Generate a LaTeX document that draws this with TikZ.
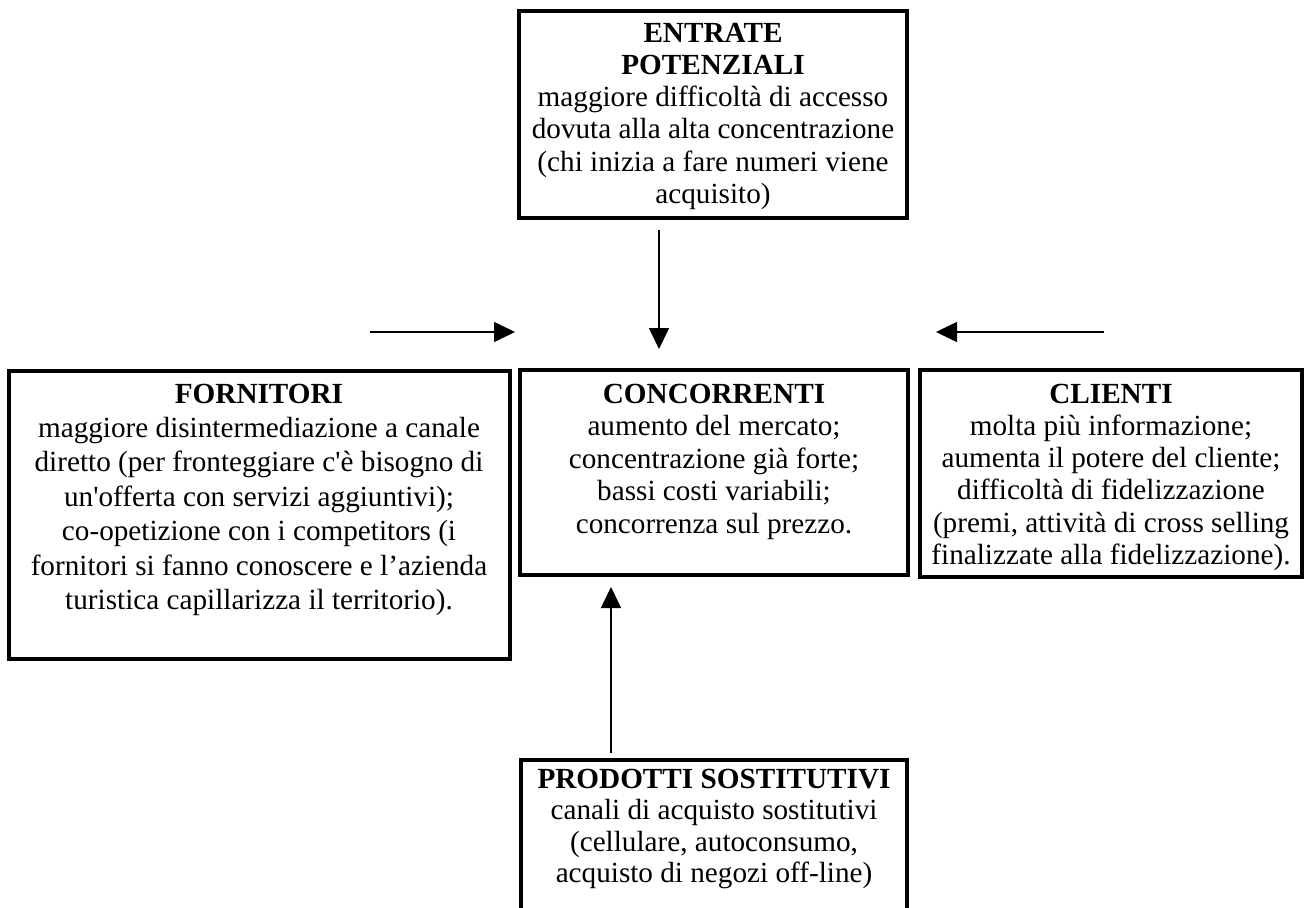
\documentclass[tikz,border=0pt]{standalone}
\usepackage{fontspec}
\setmainfont{Liberation Serif}
\usetikzlibrary{arrows.meta}
\newcommand{\boxtitle}[1]{{\bfseries #1}}
\begin{document}
\begin{tikzpicture}[x=1pt,y=-1pt,
  frame/.style={draw=black, line width=4pt, inner sep=0pt, outer sep=0pt},
  boxtext/.style={anchor=base, align=flush center, inner sep=0pt,
    font=\fontsize{29.2}{32.5}\selectfont},
  flow/.style={line width=1.6pt, -{Triangle[length=21pt,width=20pt]}}
]
\useasboundingbox (0,0) rectangle (1308,907);
\clip (0,0) rectangle (1308,907);

% frames of the five forces
\node[frame, minimum width=388pt, minimum height=207pt] (entrate) at (713,114.5) {};
\node[frame, minimum width=501pt, minimum height=288pt] (fornitori) at (259,515) {};
\node[frame, minimum width=388pt, minimum height=205pt] (concorrenti) at (714,472.5) {};
\node[frame, minimum width=382pt, minimum height=207pt] (clienti) at (1111,473.5) {};
\node[frame, minimum width=386pt, minimum height=200pt] (prodotti) at (714,860) {};

% texts
\node[boxtext, text width=400pt, font=\fontsize{29.2}{32.3}\selectfont] (entrateT) at (713,42)
  {\boxtitle{ENTRATE}\\\boxtitle{POTENZIALI}\\maggiore difficoltà di accesso\\dovuta alla alta concentrazione\\(chi inizia a fare numeri viene\\acquisito)};
\node[boxtext, text width=490pt, font=\fontsize{29.2}{34.4}\selectfont] (fornitoriT) at (259,403)
  {\boxtitle{FORNITORI}\\maggiore disintermediazione a canale\\diretto (per fronteggiare c\textquotesingle è bisogno di\\un\textquotesingle offerta con servizi aggiuntivi);\\co-opetizione con i competitors (i\\fornitori si fanno conoscere e l’azienda\\turistica capillarizza il territorio).};
\node[boxtext, text width=378pt] (concorrentiT) at (714,403)
  {\boxtitle{CONCORRENTI}\\aumento del mercato;\\concentrazione già forte;\\bassi costi variabili;\\concorrenza sul prezzo.};
\node[boxtext, text width=400pt, font=\fontsize{29.2}{32.3}\selectfont] (clientiT) at (1111,403)
  {\boxtitle{CLIENTI}\\molta più informazione;\\aumenta il potere del cliente;\\difficoltà di fidelizzazione\\(premi, attività di cross selling\\finalizzate alla fidelizzazione).};
\node[boxtext, text width=376pt, font=\fontsize{29.2}{31.5}\selectfont] (prodottiT) at (714,788)
  {\boxtitle{PRODOTTI SOSTITUTIVI}\\canali di acquisto sostitutivi\\(cellulare, autoconsumo,\\acquisto di negozi off-line)};

% arrow end points
\coordinate (topA) at (659,230);
\coordinate (topB) at (659,349);
\coordinate (leftA) at (370,332);
\coordinate (leftB) at (515,332);
\coordinate (rightA) at (1104,332);
\coordinate (rightB) at (936,332);
\coordinate (botA) at (611,753);
\coordinate (botB) at (611,587);

\draw[flow] (topA) -- (topB);
\draw[flow] (leftA) -- (leftB);
\draw[flow] (rightA) -- (rightB);
\draw[flow] (botA) -- (botB);
\end{tikzpicture}
\end{document}
